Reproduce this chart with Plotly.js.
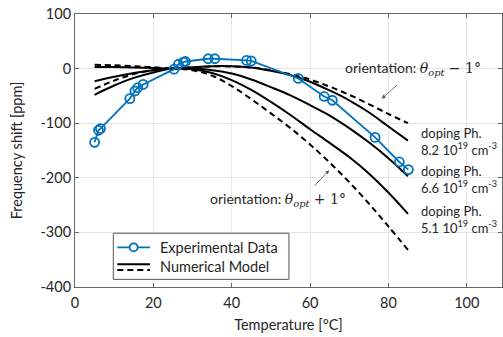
<!DOCTYPE html>
<html>
<head>
<meta charset="utf-8">
<script src="https://cdn.plot.ly/plotly-3.0.1.min.js"></script>
<style>html,body{margin:0;padding:0;background:#fff;}#chart{width:503px;height:337px;}</style>
</head>
<body>
<div id="chart"></div>
<script>
// Experimental data
const expT = [5.0, 6.0, 6.5, 14.0, 15.3, 16.0, 17.4, 25.3, 26.4, 27.7, 28.2, 34.0, 35.7, 43.8, 45.0, 57.0, 63.6, 65.7, 76.6, 82.8, 85.1];
const expF = [-135, -113, -110, -55, -41, -35, -29, -1, 8, 12, 13, 18, 18, 15, 14, -18, -51, -58, -126, -171, -185];

// Numerical model curves
const modelT = [5, 10, 15, 20, 25, 30, 35, 40, 45, 50, 55, 60, 65, 70, 75, 80, 85];
const orientMinus1 = [7, 6, 4.5, 2.5, 0.5, 2, 4, 4, 2, -3, -10, -20, -33, -48, -65, -83, -100];
const doping82 = [3, 3, 2, 1, 0, 2.5, 4.5, 4.5, 2, -4, -12, -24, -40, -58, -80, -106, -132];
const doping66 = [-23, -15, -8, -3, 0, 0, -3, -9, -20, -34, -49, -67, -86, -109, -135, -164, -197];
const doping51 = [-48, -31, -17, -7, 0, -1, -8, -21, -39, -61, -85, -111, -136, -162, -192, -227, -266];
const orientPlus1 = [-37, -22, -10, -3, 0, -3, -13, -32, -56, -82, -109, -139, -172, -208, -247, -289, -332];

const xTicks = [0, 20, 40, 60, 80, 100];
const yTicks = [-400, -300, -200, -100, 0, 100];

const FONT = 'Lato, "Open Sans", sans-serif';
const TXT = '#262626';
const blue = '#0072BD';

function model(y, dash) {
  return {x: modelT, y: y, mode: 'lines', line: {color: '#000', width: 2, dash: dash, shape: 'spline'}, showlegend: false, hoverinfo: 'skip'};
}

const traces = [
  model(orientMinus1, '6px,4px'),
  model(doping82, 'solid'),
  model(doping66, 'solid'),
  model(doping51, 'solid'),
  model(orientPlus1, '6px,4px'),
  {x: expT, y: expF, mode: 'lines+markers', line: {color: blue, width: 1.8},
   marker: {symbol: 'circle-open', size: 9, color: blue, line: {width: 1.8, color: blue}}, showlegend: false}
];

// legend geometry (paper coords)
const lx0 = 0.0897, lx1 = 0.501, ly0 = 0.028, ly1 = 0.197;
const sx0 = 0.0991, sx1 = 0.1756;
const rEx = 0.1454, rNm1 = 0.0832, rNm2 = 0.0623;
const cx = (sx0 + sx1) / 2, crx = 4 / 427, cry = 4 / 273;

const sym = '<span style="font-family:\'DejaVu Serif\',serif"><i>θ</i><sub><i>opt</i></sub> ';

const layout = {
  width: 503, height: 337,
  margin: {l: 75, r: 1, t: 14, b: 50},
  paper_bgcolor: '#fff', plot_bgcolor: '#fff',
  font: {family: FONT, size: 14, color: TXT},
  xaxis: {
    range: [0, 109], tickvals: xTicks, ticktext: xTicks.map(String),
    ticks: 'inside', ticklen: 4, tickcolor: '#666', showline: true, linecolor: '#666', linewidth: 1, mirror: 'ticks',
    showgrid: true, gridcolor: '#e6e6e6', zeroline: false, ticklabelstandoff: 3,
    title: {text: 'Temperature [°C]', font: {family: FONT, size: 14.5, color: TXT}, standoff: 9},
    tickfont: {family: FONT, size: 14.5, color: TXT}
  },
  yaxis: {
    range: [-400, 100], tickvals: yTicks, ticktext: yTicks.map(String),
    ticks: 'inside', ticklen: 4, tickcolor: '#666', showline: true, linecolor: '#666', linewidth: 1, mirror: 'ticks',
    showgrid: true, gridcolor: '#e6e6e6', zeroline: false,
    title: {text: 'Frequency shift [ppm]', font: {family: FONT, size: 14.5, color: TXT}, standoff: 14},
    tickfont: {family: FONT, size: 14.5, color: TXT}
  },
  shapes: [
    {type: 'rect', xref: 'paper', yref: 'paper', x0: lx0, x1: lx1, y0: ly0, y1: ly1, fillcolor: '#fff', line: {color: '#555', width: 1}, layer: 'above'},
    {type: 'line', xref: 'paper', yref: 'paper', x0: sx0, x1: sx1, y0: rEx, y1: rEx, line: {color: blue, width: 1.8}},
    {type: 'circle', xref: 'paper', yref: 'paper', x0: cx - crx, x1: cx + crx, y0: rEx - cry, y1: rEx + cry, fillcolor: '#fff', line: {color: blue, width: 1.8}},
    {type: 'line', xref: 'paper', yref: 'paper', x0: sx0, x1: sx1, y0: rNm1, y1: rNm1, line: {color: '#000', width: 2}},
    {type: 'line', xref: 'paper', yref: 'paper', x0: sx0, x1: sx1, y0: rNm2, y1: rNm2, line: {color: '#000', width: 2, dash: '6px,4px'}}
  ],
  annotations: [
    {xref: 'paper', yref: 'paper', x: 0.195, y: rEx, xanchor: 'left', yanchor: 'middle', text: 'Experimental Data', showarrow: false, font: {size: 14.5}},
    {xref: 'paper', yref: 'paper', x: 0.195, y: 0.0744, xanchor: 'left', yanchor: 'middle', text: 'Numerical Model', showarrow: false, font: {size: 14.5}},
    {x: 68.4, y: 0, xanchor: 'left', yanchor: 'middle', text: 'orientation: ' + sym + '− 1°</span>', showarrow: false, font: {size: 14}},
    {x: 34, y: -239, xanchor: 'left', yanchor: 'middle', text: 'orientation: ' + sym + '+ 1°</span>', showarrow: false, font: {size: 14}},
    {x: 78.3, y: -55, text: '', showarrow: true, ax: 17, ay: -15, arrowhead: 2, arrowsize: 1, arrowwidth: 0.8, arrowcolor: '#555'},
    {x: 64.9, y: -186, text: '', showarrow: true, ax: -16, ay: 17, arrowhead: 2, arrowsize: 1, arrowwidth: 0.8, arrowcolor: '#555'},
    {x: 87.8, y: -134, xanchor: 'left', yanchor: 'middle', align: 'left', text: 'doping Ph.<br>8.2 10<sup>19</sup> cm<sup>-3</sup>', showarrow: false, font: {size: 13}},
    {x: 87.8, y: -204, xanchor: 'left', yanchor: 'middle', align: 'left', text: 'doping Ph.<br>6.6 10<sup>19</sup> cm<sup>-3</sup>', showarrow: false, font: {size: 13}},
    {x: 87.8, y: -277, xanchor: 'left', yanchor: 'middle', align: 'left', text: 'doping Ph.<br>5.1 10<sup>19</sup> cm<sup>-3</sup>', showarrow: false, font: {size: 13}}
  ]
};

Plotly.newPlot('chart', traces, layout, {displayModeBar: false, staticPlot: true});
</script>
</body>
</html>
